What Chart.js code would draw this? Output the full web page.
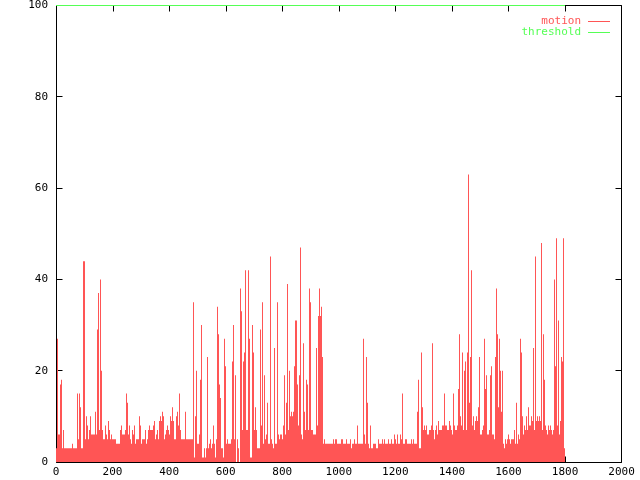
<!DOCTYPE html>
<html>
<head>
<meta charset="utf-8">
<script src="https://cdn.jsdelivr.net/npm/chart.js@4.4.1/dist/chart.umd.min.js"></script>
<style>
  html, body { margin: 0; padding: 0; background: #fff; }
</style>
</head>
<body>
<canvas id="grafico" width="640" height="480"></canvas>
<script>
// frames covered by the motion series, one value per column of the plot
const frames = 1800;

const motion = [
  3,
  3,27,6,6,17,18,3,7,3,3, 3,3,3,3,3,3,4,3,3,3,
  3,15,5,15,12,3,3,44,44,5, 10,8,5,7,10,6,6,6,6,11,
  6,29,37,7,40,20,7,5,5,8, 6,5,9,7,5,6,5,5,5,5,
  4,4,4,4,7,8,6,6,6,7, 15,13,6,8,5,4,7,6,8,4,
  5,5,5,10,8,4,5,5,5,7, 4,5,7,8,7,7,7,8,9,5,
  6,7,5,9,10,9,11,10,5,6, 7,8,7,6,10,9,12,9,5,5,
  10,11,8,15,7,5,5,5,5,11, 5,5,5,5,5,5,5,35,1,10,
  20,4,4,6,18,30,1,1,3,1, 3,23,3,4,5,3,4,8,4,1,
  5,34,28,17,14,3,3,1,27,21, 4,5,4,4,4,5,22,30,5,19,
  0,5,3,0,38,33,7,22,24,42, 7,7,42,27,1,1,30,24,7,12,
  7,3,3,3,29,8,35,4,19,5, 6,13,4,4,45,5,4,3,25,4,
  4,35,6,5,6,6,5,8,19,6, 13,39,7,20,10,11,10,11,21,31,
  31,17,8,19,47,6,5,26,11,7, 18,17,7,38,35,7,7,6,6,6,
  25,8,32,38,32,34,23,4,5,4, 4,4,4,4,4,4,4,5,4,5,
  5,4,4,4,4,5,5,4,4,4, 5,4,4,4,5,3,4,4,5,4,
  4,8,4,4,4,4,4,27,6,4, 23,13,4,3,8,3,3,4,4,4,
  3,3,5,4,4,4,5,4,5,4, 4,4,5,4,4,5,4,4,6,5,
  4,6,4,4,6,5,15,4,4,5, 5,4,4,4,4,5,4,5,4,4,
  4,11,18,3,3,24,12,7,8,7, 8,6,6,7,7,8,26,7,5,7,
  8,6,9,7,7,7,8,8,15,8, 8,7,7,9,8,7,6,15,8,7,
  7,8,16,28,10,8,24,7,20,22, 7,24,63,13,23,42,8,10,7,9,
  10,9,12,23,6,6,7,8,27,16, 19,6,6,7,19,21,6,6,5,23,
  38,28,12,27,20,11,20,4,3,5, 4,5,6,5,4,5,5,5,7,4,
  13,4,6,5,27,24,10,6,8,7, 10,7,12,8,8,10,9,25,7,45,
  9,10,9,10,9,48,7,28,18,8, 7,6,8,7,8,7,6,7,40,21,
  49,8,31,6,9,23,22,49,3
];

// threshold sits at the top of the range, over the upper border
const thresholdX = [0, 1800];
const threshold = [100, 100];

const xTicks = [0, 200, 400, 600, 800, 1000, 1200, 1400, 1600, 1800, 2000];
const yTicks = [0, 20, 40, 60, 80, 100];

const canvas = document.querySelector('#grafico');
const fuente = "11px 'DejaVu Sans Mono', monospace";

const paso = frames / (motion.length - 1);
const puntos = motion.map((v, i) => ({ x: i * paso, y: v }));
puntos.push({ x: motion.length * paso, y: 0 });

// box with inward ticks on all four sides, gnuplot style (drawn under the data)
const marco = {
  id: 'marco',
  beforeDatasetsDraw(chart) {
    const { ctx, chartArea: a, scales } = chart;
    const l = Math.round(a.left) + 0.5, r = Math.floor(a.right) + 0.5;
    const t = Math.floor(a.top) + 0.5, b = Math.round(a.bottom) + 0.5;
    ctx.save();
    ctx.strokeStyle = '#000';
    ctx.lineWidth = 1;
    ctx.beginPath();
    ctx.rect(l, t, r - l, b - t);
    xTicks.forEach(v => {
      let px = Math.round(scales.x.getPixelForValue(v)) + 0.5;
      if (v === 2000) px = r;
      ctx.moveTo(px, b); ctx.lineTo(px, b - 6);
      ctx.moveTo(px, t); ctx.lineTo(px, t + 6);
    });
    yTicks.forEach(v => {
      const py = Math.floor(scales.y.getPixelForValue(v)) + 0.5;
      ctx.moveTo(l, py); ctx.lineTo(l + 6, py);
      ctx.moveTo(r, py); ctx.lineTo(r - 6, py);
    });
    ctx.stroke();
    ctx.restore();
  }
};

const leyenda = {
  id: 'leyenda',
  afterDraw(chart) {
    const { ctx } = chart;
    ctx.save();
    ctx.font = fuente;
    ctx.textAlign = 'right';
    ctx.textBaseline = 'middle';
    chart.data.datasets.forEach((ds, i) => {
      const y = 21.5 + i * 11;
      ctx.fillStyle = ds.borderColor;
      ctx.fillText(ds.label, 581, y);
      ctx.strokeStyle = ds.borderColor;
      ctx.lineWidth = 1;
      ctx.beginPath();
      ctx.moveTo(588, y);
      ctx.lineTo(610, y);
      ctx.stroke();
    });
    ctx.restore();
  }
};

const config = {
  type: 'line',
  data: {
    datasets: [
      {
        label: 'motion',
        data: puntos,
        borderColor: '#ff5555',
        backgroundColor: '#ff5555',
        borderWidth: 0,
        pointRadius: 0,
        stepped: 'after',
        fill: 'origin'
      },
      {
        label: 'threshold',
        data: thresholdX.map((x, i) => ({ x, y: threshold[i] })),
        borderColor: '#55ff55',
        borderWidth: 1,
        pointRadius: 0,
        fill: false,
        clip: false
      }
    ]
  },
  options: {
    responsive: false,
    animation: false,
    layout: { padding: { left: 0, right: 18.44, top: 5.5, bottom: 0 } },
    plugins: { legend: { display: false }, tooltip: { enabled: false } },
    scales: {
      x: {
        type: 'linear',
        min: 0,
        max: 2000,
        afterFit: (s) => { s.height = 18; s.paddingLeft = 0; s.paddingRight = 0; },
        afterBuildTicks: (s) => { s.ticks = xTicks.map(v => ({ value: v })); },
        grid: { display: false, drawTicks: false, tickLength: 0 },
        border: { display: false },
        ticks: {
          font: { family: "'DejaVu Sans Mono'", size: 11 },
          color: '#000',
          padding: 4,
          maxRotation: 0,
          autoSkip: false,
          callback: (v) => String(v)
        }
      },
      y: {
        min: 0,
        max: 100,
        afterFit: (s) => { s.width = 56; s.paddingTop = 0; s.paddingBottom = 0; },
        afterBuildTicks: (s) => { s.ticks = yTicks.map(v => ({ value: v })); },
        grid: { display: false, drawTicks: false, tickLength: 0 },
        border: { display: false },
        ticks: {
          font: { family: "'DejaVu Sans Mono'", size: 11 },
          color: '#000',
          padding: 8,
          callback: (v) => String(v)
        }
      }
    }
  },
  plugins: [marco, leyenda]
};

new Chart(canvas, config);
</script>
</body>
</html>
